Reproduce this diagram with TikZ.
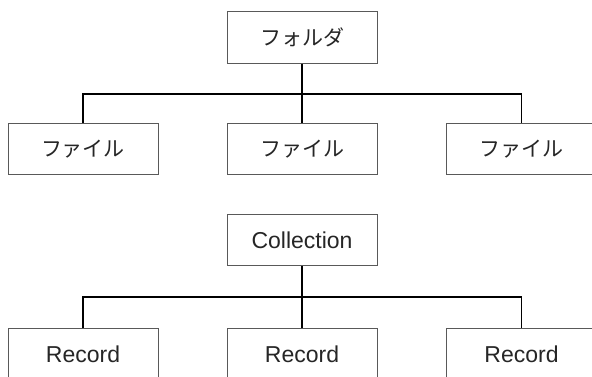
\documentclass[tikz,border=0pt]{standalone}
\usepackage{fontspec}
\setmainfont{Liberation Sans}
\newfontfamily\jpfont{Noto Sans CJK JP}
\begin{document}
\begin{tikzpicture}[x=1pt,y=-1pt,
  box/.style={draw=black!65, line width=0.8pt, fill=white, minimum width=150pt, minimum height=51.5pt, inner sep=0pt, text=black!85},
  jpbox/.style={box, font=\jpfont\fontsize{21}{25}\selectfont},
  enbox/.style={box, font=\fontsize{23}{27}\selectfont},
  conn/.style={draw=black, line width=1.6pt}]
\useasboundingbox (0,0) rectangle (592,376);
\clip (0,0) rectangle (592,376);
% top tree
\node[jpbox] (folder) at (302,37.5) {フォルダ};
\node[jpbox] (f1) at (83,149) {ファイル};
\node[jpbox] (f2) at (302,149) {ファイル};
\node[jpbox] (f3) at (521.5,149) {ファイル};
\coordinate (j1) at (302,94);
\draw[conn] (folder.south) -- (f2.north);
\draw[conn] (f1.north) |- (j1) -| (f3.north);
% bottom tree
\node[enbox] (coll) at (302,240) {Collection};
\node[enbox] (r1) at (83,354) {Record};
\node[enbox] (r2) at (302,354) {Record};
\node[enbox] (r3) at (521.5,354) {Record};
\coordinate (j2) at (302,297);
\draw[conn] (coll.south) -- (r2.north);
\draw[conn] (r1.north) |- (j2) -| (r3.north);
\end{tikzpicture}
\end{document}
